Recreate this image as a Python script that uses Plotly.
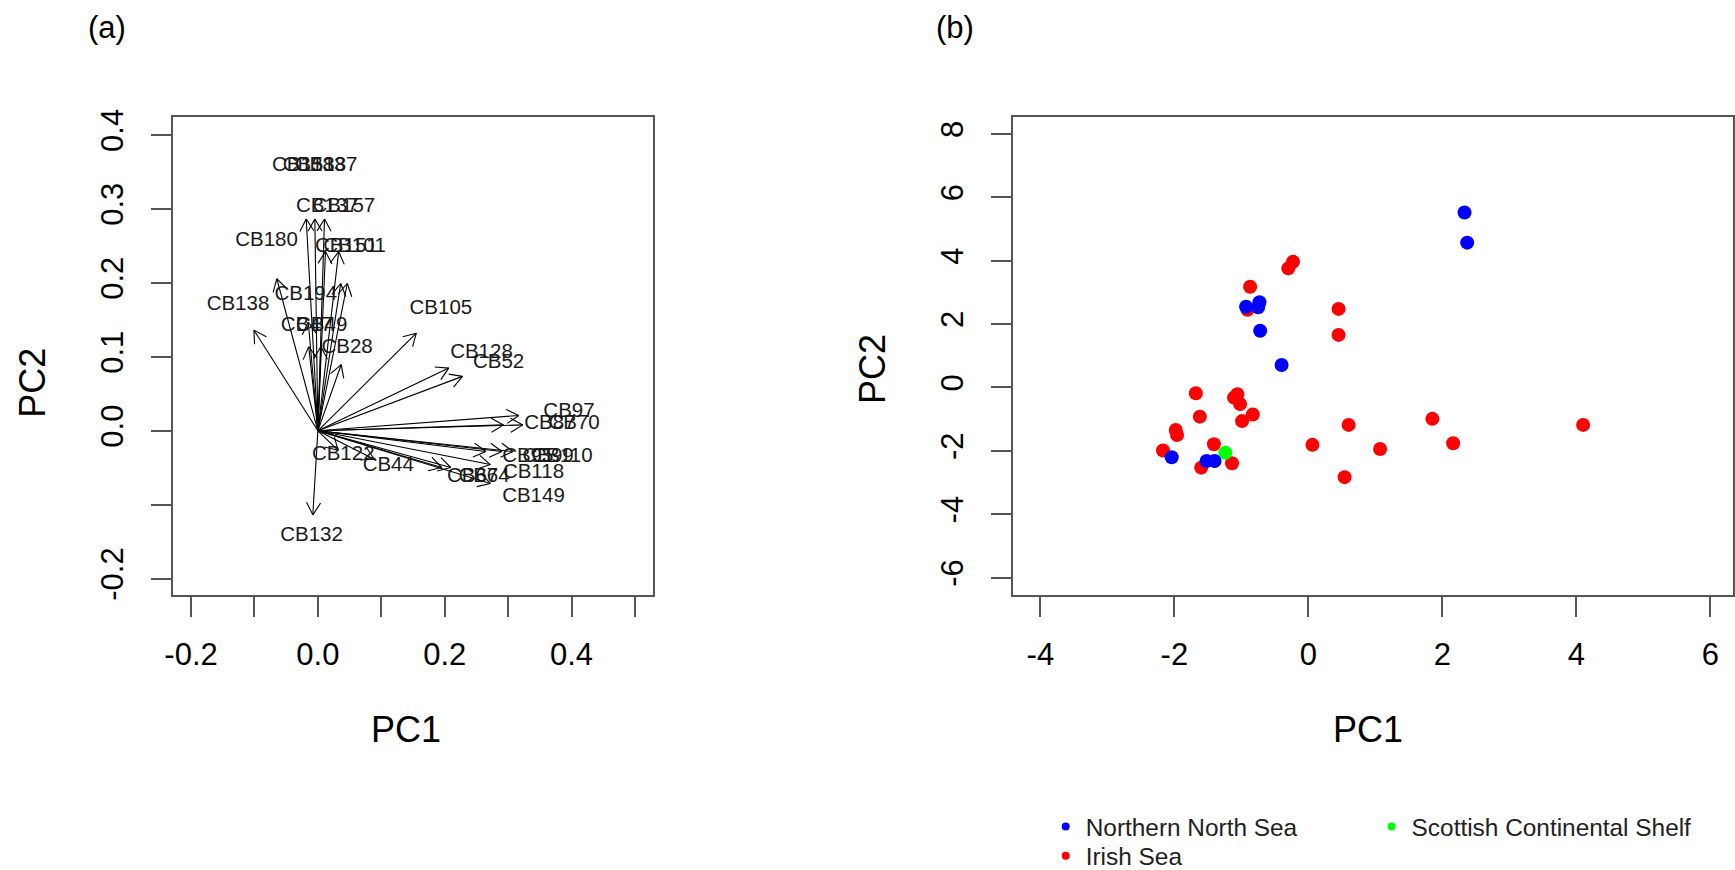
import math
import plotly.graph_objects as go

W, H = 1735, 870

# ---------------- Panel (a): PCA loadings (label positions) ----------------
load_names = ["CB180", "CB138", "CB194",
              "CB153", "CB183", "CB187",
              "CB137", "CB157",
              "CB151", "CB101",
              "CB47", "CB49",
              "CB28", "CB105", "CB128", "CB52",
              "CB97", "CB87", "CB70",
              "CB95", "CB99", "CB110",
              "CB118", "CB66", "CB74", "CB149",
              "CB44", "CB122", "CB132"]
load_pc1 = [-0.081, -0.126, -0.019,
            -0.023, -0.006, 0.013,
            0.015, 0.041,
            0.045, 0.058,
            -0.018, 0.006,
            0.046, 0.194, 0.258, 0.285,
            0.396, 0.366, 0.404,
            0.331, 0.363, 0.385,
            0.340, 0.244, 0.262, 0.340,
            0.111, 0.040, -0.010]
load_pc2 = [0.257, 0.170, 0.184,
            0.358, 0.358, 0.358,
            0.303, 0.303,
            0.249, 0.249,
            0.142, 0.142,
            0.112, 0.165, 0.106, 0.092,
            0.026, 0.010, 0.010,
            -0.035, -0.035, -0.035,
            -0.057, -0.062, -0.062, -0.089,
            -0.048, -0.033, -0.142]
arrow_scale = 0.8   # R biplot draws arrows to 0.8 x label position

a_xticks = [-0.2, -0.1, 0.0, 0.1, 0.2, 0.3, 0.4, 0.5]
a_xticktext = ["-0.2", "", "0.0", "", "0.2", "", "0.4", ""]
a_yticks = [-0.2, -0.1, 0.0, 0.1, 0.2, 0.3, 0.4]
a_yticktext = ["-0.2", "", "0.0", "0.1", "0.2", "0.3", "0.4"]
a_top_ticks = [-1, 0, 1, 2, 3]
a_right_ticks = [-1, 0, 1, 2, 3]

# ---------------- Panel (b): PCA scores by region ----------------
nns_pc1 = [2.33, 2.37, -0.93, -0.73, -0.75, -0.72, -0.40, -2.04, -1.52, -1.40]
nns_pc2 = [5.52, 4.57, 2.55, 2.69, 2.53, 1.79, 0.71, -2.20, -2.32, -2.32]
irish_pc1 = [-0.23, -0.30, -0.87, -0.91, 0.45, 0.45, -1.68, -1.06, -1.11, -1.02,
             -0.83, -0.99, -1.62, -1.98, -1.96, -2.17, -1.41, -1.60, -1.14, 0.60,
             0.06, 1.07, 0.54, 1.85, 2.16, 4.10]
irish_pc2 = [3.97, 3.76, 3.18, 2.45, 2.48, 1.66, -0.18, -0.21, -0.32, -0.52,
             -0.85, -1.06, -0.92, -1.34, -1.50, -1.99, -1.79, -2.53, -2.39, -1.18,
             -1.81, -1.94, -2.83, -0.99, -1.76, -1.18]
scs_pc1 = [-1.24]
scs_pc2 = [-2.06]

b_xticks = [-4, -2, 0, 2, 4, 6]
b_xticktext = ["-4", "-2", "0", "2", "4", "6"]
b_yticks = [-6, -4, -2, 0, 2, 4, 6, 8]
b_yticktext = ["-6", "-4", "-2", "0", "2", "4", "6", "8"]

# ---------------- geometry (pixels) ----------------
A_L, A_R, A_T, A_B = 173.3, 652.7, 116.5, 595.0
B_L, B_R = 1013.3, 1733.0
a_xrange = [-0.228, 0.528]
a_yrange = [-0.222, 0.425]
a_toprange = [-1.640, 3.808]
a_rightrange = [-1.599, 3.047]
b_xrange = [-4.404, 6.337]
b_yrange = [-6.548, 8.551]

FONT = "Liberation Sans, Arial, sans-serif"
AX_COL = "#555555"

# arrows (shaft + V heads), computed from loadings
sx = (A_R - A_L) / (a_xrange[1] - a_xrange[0])
sy = (A_B - A_T) / (a_yrange[1] - a_yrange[0])
head_len = 14.0
head_ang = math.radians(30)
ax_x, ax_y = [], []
for px_, py_ in zip(load_pc1, load_pc2):
    tx, ty = px_ * arrow_scale, py_ * arrow_scale
    ax_x += [0, tx, None]
    ax_y += [0, ty, None]
    th = math.atan2(ty * sy, tx * sx)
    for s in (1, -1):
        a = th + math.pi + s * head_ang
        hx = tx + head_len * math.cos(a) / sx
        hy = ty + head_len * math.sin(a) / sy
        ax_x += [tx, hx, None]
        ax_y += [ty, hy, None]

fig = go.Figure()
fig.add_trace(go.Scatter(x=ax_x, y=ax_y, mode="lines",
                         line=dict(color="black", width=1.1),
                         showlegend=False, hoverinfo="skip",
                         xaxis="x", yaxis="y"))
fig.add_trace(go.Scatter(x=load_pc1, y=load_pc2, mode="text", text=load_names,
                         textposition="middle center",
                         textfont=dict(family=FONT, size=20.5, color="#1a1a1a"),
                         showlegend=False, xaxis="x", yaxis="y"))

# scores
MS = 14
fig.add_trace(go.Scatter(x=irish_pc1, y=irish_pc2, mode="markers",
                         marker=dict(color="#FF0000", size=MS, line=dict(width=0)),
                         showlegend=False, xaxis="x2", yaxis="y2"))
fig.add_trace(go.Scatter(x=scs_pc1, y=scs_pc2, mode="markers",
                         marker=dict(color="#00FF00", size=MS, line=dict(width=0)),
                         showlegend=False, xaxis="x2", yaxis="y2"))
fig.add_trace(go.Scatter(x=nns_pc1, y=nns_pc2, mode="markers",
                         marker=dict(color="#0000FF", size=MS, line=dict(width=0)),
                         showlegend=False, xaxis="x2", yaxis="y2"))
# legend entries (one small legend per entry, laid out in two columns)
for nm, col, lg in [("Northern North Sea", "#0000FF", "legend"),
                    ("Scottish Continental Shelf", "#00FF00", "legend2"),
                    ("Irish Sea", "#FF0000", "legend3")]:
    fig.add_trace(go.Scatter(x=[None], y=[None], mode="markers", name=nm,
                             legend=lg,
                             marker=dict(color=col, size=8, line=dict(width=0)),
                             xaxis="x2", yaxis="y2"))

axis_common = dict(showline=True, linecolor=AX_COL, linewidth=2, mirror=True,
                   ticks="outside", ticklen=20, tickwidth=2, tickcolor=AX_COL,
                   showgrid=False, zeroline=False, automargin=False,
                   tickfont=dict(family=FONT, size=31, color="black"))

leg_common = dict(orientation="v", xanchor="left", yanchor="middle",
                  font=dict(family=FONT, size=24.4, color="#222222"),
                  bgcolor="rgba(0,0,0,0)", borderwidth=0,
                  itemclick=False, itemdoubleclick=False)
LEG_X1, LEG_X2 = 1045.7, 1371.6
LEG_Y1, LEG_Y2 = 826.7, 856.0

ya = (1 - A_B / H, 1 - A_T / H)
fig.update_layout(
    width=W, height=H,
    margin=dict(l=0, r=0, t=0, b=0, autoexpand=False),
    paper_bgcolor="white", plot_bgcolor="white",
    xaxis=dict(domain=[A_L / W, A_R / W], range=a_xrange, anchor="y",
               tickmode="array", tickvals=a_xticks, ticktext=a_xticktext,
               ticklabelstandoff=11, **axis_common),
    yaxis=dict(domain=list(ya), range=a_yrange, anchor="x",
               tickmode="array", tickvals=a_yticks, ticktext=a_yticktext,
               tickangle=-90, ticklabelstandoff=16, **axis_common),
    xaxis3=dict(overlaying="x", side="top", anchor="y", range=a_toprange,
                tickmode="array", tickvals=a_top_ticks, showticklabels=False,
                ticks="outside", ticklen=20, tickwidth=2, tickcolor=AX_COL,
                showline=False, showgrid=False, zeroline=False, automargin=False),
    yaxis3=dict(overlaying="y", side="right", anchor="x", range=a_rightrange,
                tickmode="array", tickvals=a_right_ticks, showticklabels=False,
                ticks="outside", ticklen=20, tickwidth=2, tickcolor=AX_COL,
                showline=False, showgrid=False, zeroline=False, automargin=False),
    xaxis2=dict(domain=[B_L / W, B_R / W], range=b_xrange, anchor="y2",
                tickmode="array", tickvals=b_xticks, ticktext=b_xticktext,
                ticklabelstandoff=11, **axis_common),
    yaxis2=dict(domain=list(ya), range=b_yrange, anchor="x2",
                tickmode="array", tickvals=b_yticks, ticktext=b_yticktext,
                tickangle=-90, ticklabelstandoff=16, **axis_common),
    showlegend=True,
    legend=dict(x=LEG_X1 / W, y=1 - LEG_Y1 / H, **leg_common),
    legend2=dict(x=LEG_X2 / W, y=1 - LEG_Y1 / H, **leg_common),
    legend3=dict(x=LEG_X1 / W, y=1 - LEG_Y2 / H, **leg_common),
)

ann_font = dict(family=FONT, color="black")
anns = [
    dict(text="(a)", x=106.5 / W, y=1 - 27.5 / H, font=dict(size=31, **ann_font)),
    dict(text="(b)", x=955 / W, y=1 - 27.5 / H, font=dict(size=31, **ann_font)),
    dict(text="PC1", x=405.5 / W, y=1 - 729 / H, font=dict(size=36, **ann_font)),
    dict(text="PC1", x=1367.5 / W, y=1 - 729 / H, font=dict(size=36, **ann_font)),
    dict(text="PC2", x=31.7 / W, y=1 - 383 / H, textangle=-90, font=dict(size=36, **ann_font)),
    dict(text="PC2", x=872 / W, y=1 - 369 / H, textangle=-90, font=dict(size=36, **ann_font)),
]
for a in anns:
    a.update(xref="paper", yref="paper", showarrow=False,
             xanchor="center", yanchor="middle")
fig.update_layout(annotations=anns)

fig.write_html("out.html",
               config={"displayModeBar": False},
               post_script="document.body.style.margin='0px';"
                           "document.body.style.overflow='hidden';")
